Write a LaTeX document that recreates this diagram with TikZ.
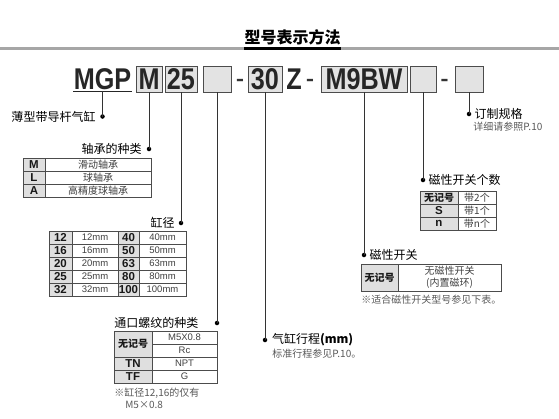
\documentclass[tikz,border=0pt]{standalone}
\usepackage{fontspec}
\setmainfont{Liberation Sans}
\newfontfamily\cjk{Noto Sans CJK SC}
\newfontfamily\codefont[FakeStretch=0.84]{Liberation Sans}
\usetikzlibrary{positioning}

\tikzset{every picture/.style={line width=0.75pt}}
\tikzset{
    codetext/.style={font=\codefont\bfseries\fontsize{30}{30}\selectfont, text=black!85, inner sep=0pt},
    codebox/.style={codetext, draw=black!70, fill=gray!22, minimum height=26pt, line width=0.8pt},
    dashnode/.style={font=\codefont\fontsize{30}{30}\selectfont, text=black!80, inner sep=0pt, anchor=base},
    stem/.style={draw=black!80, line width=1pt},
    dot/.style={circle, fill=black, inner sep=0pt, minimum size=4.5pt},
    lbl/.style={font=\cjk\fontsize{12}{12}\selectfont, text=black, inner sep=0pt},
    note/.style={font=\cjk\fontsize{10}{12}\selectfont, text=black!65, inner sep=0pt},
    hcell/.style={draw=black!70, fill=gray!25, outer sep=0pt, inner sep=0pt, minimum height=13pt,
        font=\bfseries\fontsize{11.5}{11.5}\selectfont, text=black!90},
    vcell/.style={draw=black!70, fill=white, outer sep=0pt, inner sep=0pt, minimum height=13pt,
        font=\fontsize{9.5}{12}\selectfont, text=black!75},
    cjkcell/.style={vcell, font=\cjk\fontsize{10}{12}\selectfont},
}

\begin{document}
\begin{tikzpicture}[x=1pt,y=-1pt]
    \useasboundingbox (0,0) rectangle (559,418);

    % title
    \draw[line width=3pt, color=gray!70] (0,48.5) -- (559,48.5);
    \node[font=\cjk\bfseries\fontsize{16}{16}\selectfont, inner sep=0pt] (title) at (292.5,37) {型号表示方法};
    \draw[line width=3pt, color=black] (title.west |- 0,48.5) -- (title.east |- 0,48.5);

    % model code
    \node[codetext] (mgp) at (102.5,79) {MGP};
    \draw[line width=1.2pt, color=black!85] ([yshift=-1.5pt]mgp.south west) -- ([yshift=-1.5pt]mgp.south east);
    \node[codebox, minimum width=26pt] (bearing) at (149,79) {M};
    \node[codebox, minimum width=32pt] (bore) at (181,79) {25};
    \node[codebox, minimum width=28pt] (port) at (217,79) {};
    \node[dashnode] (dasha) at (240,88) {-};
    \node[codebox, minimum width=34pt] (stroke) at (265,79) {30};
    \node[codetext] (zz) at (294,79) {Z};
    \node[dashnode] (dashb) at (310,88) {-};
    \node[codebox, minimum width=86pt] (switch) at (364,79) {M9BW};
    \node[codebox, minimum width=26pt] (swnum) at (423,79) {};
    \node[dashnode] (dashc) at (444.5,88) {-};
    \node[codebox, minimum width=28pt] (custom) at (469,79) {};

    % stems and labels
    \node[dot] (mgpdot) at (102.5,116.5) {};
    \draw[stem] ([yshift=-1.5pt]mgp.south) -- (mgpdot.center);
    \node[lbl, left=4pt of mgpdot] (mgplbl) {薄型带导杆气缸};

    \node[dot] (bearingdot) at (149,149) {};
    \draw[stem] (bearing.south) -- (bearingdot.center);
    \node[lbl, left=4.5pt of bearingdot] (bearinglbl) {轴承的种类};

    \node[dot] (boredot) at (181,223) {};
    \draw[stem] (bore.south) -- (boredot.center);
    \node[lbl, left=3.5pt of boredot] (borelbl) {缸径};

    \node[dot] (portdot) at (217,323) {};
    \draw[stem] (port.south) -- (portdot.center);

    \node[dot] (strokedot) at (265,340) {};
    \draw[stem] (stroke.south) -- (strokedot.center);
    \node[lbl, right=4pt of strokedot] (strokelbl) {气缸行程\textbf{(mm)}};
    \node[note, anchor=west] (strokenote) at (272,353.5) {标准行程参见P.10。};

    \node[dot] (switchdot) at (364,255) {};
    \draw[stem] (switch.south) -- (switchdot.center);
    \node[lbl, right=2.5pt of switchdot] (switchlbl) {磁性开关};

    \node[dot] (swnumdot) at (423,180) {};
    \draw[stem] (swnum.south) -- (swnumdot.center);
    \node[lbl, right=2.5pt of swnumdot] (swnumlbl) {磁性开关个数};

    \node[dot] (customdot) at (469,114) {};
    \draw[stem] (custom.south) -- (customdot.center);
    \node[lbl, right=2.5pt of customdot] (customlbl) {订制规格};
    \node[note, anchor=west] (customnote) at (473,126.5) {详细请参照P.10};

    % bearing table
    \foreach \code/\desc [count=\i] in {M/滑动轴承, L/球轴承, A/高精度球轴承}{
        \node[hcell, minimum width=22pt] (brgc\i) at (34,151.5+13*\i) {\code};
        \node[cjkcell, minimum width=106pt, right=0pt of brgc\i] (brgd\i) {\desc};
    }

    % bore table
    \foreach \a/\b [count=\i] in {12/40, 16/50, 20/63, 25/80, 32/100}{
        \node[hcell, minimum width=23pt] (borea\i) at (60.5,224.5+13*\i) {\a};
        \node[vcell, minimum width=46pt, right=0pt of borea\i] (boreb\i) {\a mm};
        \node[hcell, minimum width=21pt, right=0pt of boreb\i] (borec\i) {\b};
        \node[vcell, minimum width=47pt, right=0pt of borec\i] (bored\i) {\b mm};
    }

    % port table
    \node[hcell, minimum width=38pt, minimum height=26pt, anchor=north west, font=\cjk\bfseries\fontsize{10}{10}\selectfont] (portnone) at (114,331) {无记号};
    \node[vcell, minimum width=65pt, anchor=north west] (portm5) at (portnone.north east) {M5X0.8};
    \node[vcell, minimum width=65pt, below=0pt of portm5] (portrc) {Rc};
    \node[hcell, minimum width=38pt, below=0pt of portnone] (porttn) {TN};
    \node[vcell, minimum width=65pt, right=0pt of porttn] (portnpt) {NPT};
    \node[hcell, minimum width=38pt, below=0pt of porttn] (porttf) {TF};
    \node[vcell, minimum width=65pt, right=0pt of porttf] (portg) {G};
    \node[lbl, anchor=south west] (portlbl) at ([yshift=2.5pt]portnone.north west) {通口螺纹的种类};
    \node[note, anchor=west] (portnote) at (114,393) {※缸径12,16的仅有};
    \node[note, anchor=west] (portnoteb) at (125,404.5) {M5×0.8};

    % switch count table
    \foreach \code/\desc [count=\i] in {{\cjk\fontsize{10}{10}\selectfont 无记号}/带2个, S/带1个, n/带n个}{
        \node[hcell, minimum width=38pt] (swnc\i) at (439,184.5+13*\i) {\code};
        \node[cjkcell, minimum width=38pt, right=0pt of swnc\i] (swnd\i) {\desc};
    }

    % switch table
    \node[hcell, minimum width=37pt, minimum height=27pt, anchor=north west, font=\cjk\bfseries\fontsize{10}{10}\selectfont] (swnone) at (361,264) {无记号};
    \node[cjkcell, minimum width=103pt, minimum height=27pt, right=0pt of swnone, align=center] (swdesc) {无磁性开关\\(内置磁环)};
    \node[note, anchor=west] (swnote) at (361,299.5) {※适合磁性开关型号参见下表。};
\end{tikzpicture}
\end{document}
